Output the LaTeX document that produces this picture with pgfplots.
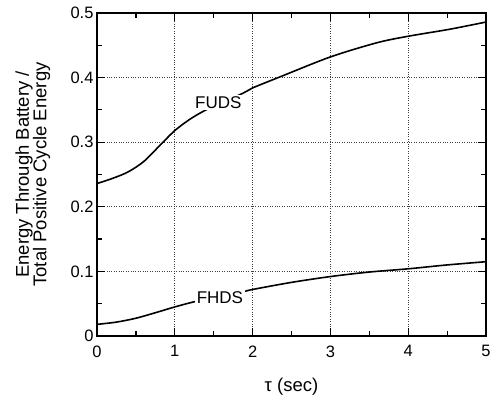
\documentclass[border=0pt]{standalone}
\usepackage{fontspec}
\setmainfont{Liberation Sans}
\usepackage{pgfplots}
\pgfplotsset{compat=1.18}
\newcommand{\tfont}{\fontsize{16.5}{19}\selectfont}
\begin{document}
\begin{tikzpicture}
\begin{axis}[
  scale only axis, width=389pt, height=323pt,
  xmin=0, xmax=5, ymin=0, ymax=0.5,
  xtick={0,1,2,3,4,5}, ytick={0,0.1,0.2,0.3,0.4,0.5},
  minor x tick num=1, minor y tick num=1,
  tick align=inside, major tick length=8pt, minor tick length=5pt,
  tick style={black, line width=1.2pt},
  axis line style={line width=1.6pt},
  grid=major,
  major grid style={dotted, black!75, line width=0.7pt},
  xticklabel={\tfont\pgfmathprintnumber[assume math mode=true]{\tick}},
  yticklabel={\tfont\pgfmathprintnumber[assume math mode=true,fixed]{\tick}},
  xticklabel style={yshift=-6pt},
  xlabel={τ (sec)},
  ylabel={Energy Through Battery /\\Total Positive Cycle Energy},
  label style={font=\fontsize{18.5}{17.5}\selectfont},
  xlabel style={at={(axis description cs:0.5,-0.158)}, anchor=center},
  ylabel style={at={(axis description cs:-0.165,0.5)}, anchor=center, align=center},
]
\addplot[black, line width=1.6pt, smooth] coordinates {
(0,0.236) (0.2,0.244) (0.4,0.254) (0.6,0.270) (0.8,0.294) (1.0,0.318)
(1.2,0.336) (1.4,0.350) (1.6,0.361) (1.88,0.376)
(2.0,0.384) (2.35,0.401) (3.0,0.432) (3.6,0.454) (4.0,0.464) (4.54,0.475) (5,0.486)};
\addplot[black, line width=1.6pt, smooth] coordinates {
(0,0.018) (0.25,0.0215) (0.5,0.0275) (0.75,0.036) (1.0,0.045) (1.25,0.053)
(1.55,0.061) (1.86,0.068) (2,0.072) (2.5,0.083) (3,0.092) (3.5,0.099)
(4,0.104) (4.5,0.110) (5,0.115)};
\node[fill=white, inner sep=1.5pt, font=\fontsize{17}{20}\selectfont] at (axis cs:1.56,0.361) {FUDS};
\node[fill=white, inner sep=1.5pt, font=\fontsize{17}{20}\selectfont] at (axis cs:1.58,0.060) {FHDS};
\end{axis}
\pgfresetboundingbox
\path[use as bounding box] ([xshift=-97pt,yshift=-61pt]current axis.south west) rectangle ([xshift=8pt,yshift=13pt]current axis.north east);
\end{tikzpicture}
\end{document}
